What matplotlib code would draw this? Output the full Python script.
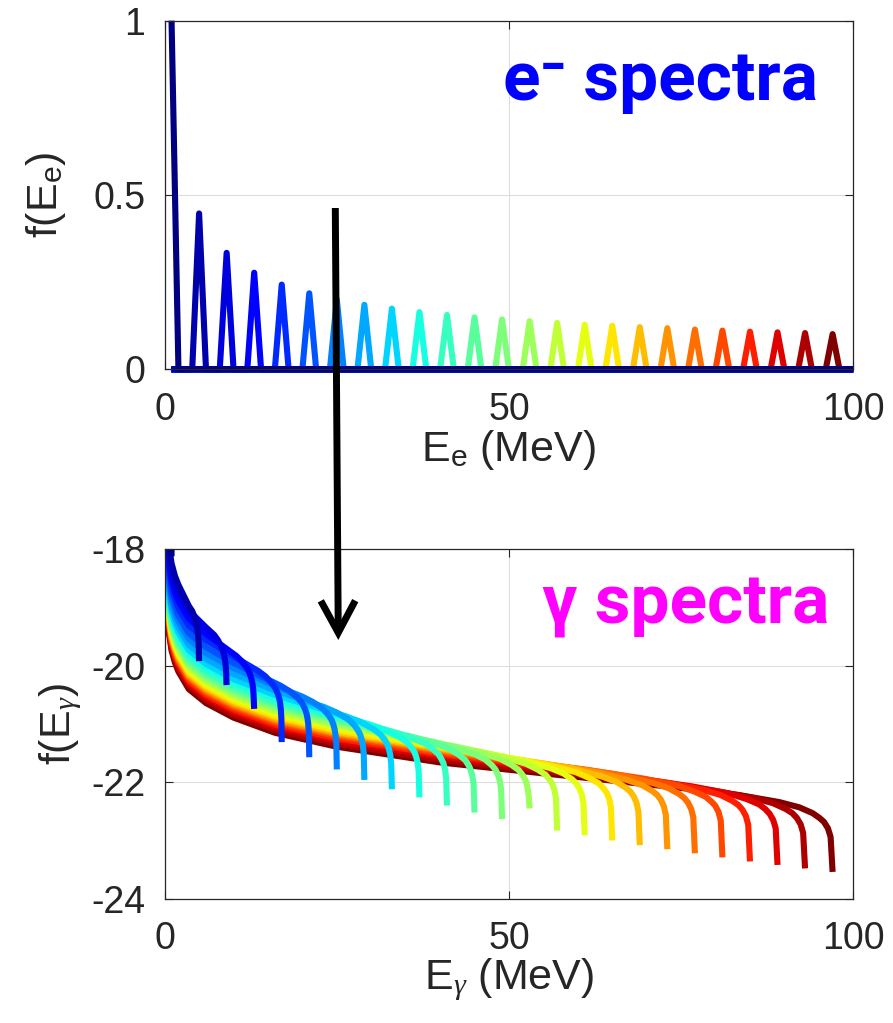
import numpy as np
import matplotlib
matplotlib.use("Agg")
import matplotlib.pyplot as plt
from matplotlib.patches import FancyArrowPatch

plt.rcParams['font.family'] = ['Liberation Sans', 'DejaVu Sans']
plt.rcParams['mathtext.fontset'] = 'custom'
plt.rcParams['mathtext.rm'] = 'Liberation Sans'
plt.rcParams['mathtext.it'] = 'Liberation Serif:italic'
plt.rcParams['axes.unicode_minus'] = False

# electron spectra: one narrow line per beam energy (MeV), sampled every 1 MeV
e_peak = [1, 5, 9, 13, 17, 21, 25, 29, 33, 37, 41, 45, 49,
          53, 57, 61, 65, 69, 73, 77, 81, 85, 89, 93, 97]
f_peak = [1.0, 0.447, 0.334, 0.277, 0.243, 0.218, 0.2, 0.185, 0.174, 0.164,
          0.156, 0.149, 0.143, 0.138, 0.133, 0.128, 0.125, 0.121, 0.118,
          0.114, 0.111, 0.108, 0.106, 0.104, 0.101]
e_grid = np.arange(1, 101)

# gamma spectra (log10), one curve per electron energy in e_peak
# body points sit at gamma_e_body, the cut-off part at e_peak * tail_frac
gamma_e_body = [0.02, 0.15, 0.3, 0.6, 1, 1.5, 2, 3.5, 6, 10, 16, 25, 40, 60]
tail_frac = [0.8, 0.86, 0.92, 0.95, 0.97, 0.98, 0.987, 0.993, 0.997, 1.0]

gamma_body = [
    [-14.72, -15.72, -16.38, -16.98],
    [-15.70, -16.70, -17.35, -17.92, -18.24, -18.46, -18.61, -18.97],
    [-15.84, -16.84, -17.49, -18.06, -18.38, -18.59, -18.74, -19.05, -19.34],
    [-15.99, -16.99, -17.64, -18.21, -18.53, -18.74, -18.89, -19.19, -19.45],
    [-16.11, -17.11, -17.76, -18.33, -18.65, -18.86, -19.01, -19.31, -19.56, -19.84],
    [-16.24, -17.24, -17.89, -18.46, -18.78, -18.99, -19.14, -19.44, -19.68, -19.95],
    [-16.34, -17.34, -17.99, -18.56, -18.88, -19.09, -19.24, -19.54, -19.78, -20.04, -20.34],
    [-16.44, -17.44, -18.09, -18.66, -18.98, -19.19, -19.34, -19.64, -19.88, -20.14, -20.42],
    [-16.53, -17.53, -18.18, -18.75, -19.07, -19.28, -19.43, -19.73, -19.97, -20.23, -20.50],
    [-16.60, -17.60, -18.25, -18.82, -19.14, -19.35, -19.50, -19.80, -20.04, -20.29, -20.56, -20.85],
    [-16.66, -17.66, -18.31, -18.88, -19.20, -19.41, -19.56, -19.86, -20.10, -20.35, -20.62, -20.89],
    [-16.71, -17.71, -18.36, -18.93, -19.25, -19.46, -19.61, -19.91, -20.15, -20.40, -20.66, -20.93],
    [-16.75, -17.75, -18.40, -18.97, -19.29, -19.50, -19.65, -19.95, -20.19, -20.44, -20.70, -20.96],
    [-16.79, -17.79, -18.44, -19.01, -19.33, -19.54, -19.69, -19.99, -20.23, -20.48, -20.74, -21.00],
    [-16.83, -17.83, -18.48, -19.05, -19.37, -19.58, -19.73, -20.03, -20.27, -20.52, -20.78, -21.03, -21.35],
    [-16.87, -17.87, -18.52, -19.09, -19.41, -19.62, -19.77, -20.07, -20.31, -20.56, -20.82, -21.07, -21.37],
    [-16.91, -17.91, -18.56, -19.13, -19.45, -19.66, -19.81, -20.11, -20.35, -20.60, -20.86, -21.11, -21.40],
    [-16.94, -17.94, -18.59, -19.16, -19.48, -19.69, -19.84, -20.14, -20.38, -20.63, -20.89, -21.14, -21.42],
    [-16.97, -17.97, -18.62, -19.19, -19.51, -19.72, -19.87, -20.17, -20.41, -20.66, -20.92, -21.16, -21.44],
    [-16.99, -17.99, -18.64, -19.21, -19.53, -19.74, -19.89, -20.19, -20.43, -20.68, -20.94, -21.18, -21.46],
    [-17.02, -18.02, -18.67, -19.24, -19.56, -19.77, -19.92, -20.22, -20.46, -20.71, -20.97, -21.21, -21.49, -21.77],
    [-17.06, -18.06, -18.71, -19.28, -19.60, -19.81, -19.96, -20.26, -20.50, -20.75, -21.01, -21.25, -21.52, -21.80],
    [-17.10, -18.10, -18.75, -19.32, -19.64, -19.85, -20.00, -20.30, -20.54, -20.79, -21.05, -21.29, -21.56, -21.83],
    [-17.15, -18.15, -18.80, -19.37, -19.69, -19.90, -20.05, -20.35, -20.59, -20.84, -21.10, -21.34, -21.61, -21.87],
    [-17.20, -18.20, -18.85, -19.42, -19.74, -19.95, -20.10, -20.40, -20.64, -20.89, -21.15, -21.39, -21.66, -21.91],
]
gamma_tail = [
    [-17.27, -17.36, -17.48, -17.57, -17.67, -17.74, -17.82, -17.93, -18.08, -18.12],
    [-19.06, -19.15, -19.28, -19.37, -19.47, -19.54, -19.62, -19.73, -19.88, -19.92],
    [-19.47, -19.56, -19.69, -19.78, -19.88, -19.95, -20.03, -20.14, -20.29, -20.33],
    [-19.83, -19.92, -20.04, -20.13, -20.23, -20.30, -20.38, -20.49, -20.64, -20.74],
    [-20.09, -20.18, -20.31, -20.40, -20.50, -20.57, -20.65, -20.76, -20.91, -21.31],
    [-20.34, -20.43, -20.55, -20.64, -20.74, -20.81, -20.89, -21.00, -21.15, -21.57],
    [-20.53, -20.62, -20.74, -20.84, -20.93, -21.01, -21.09, -21.20, -21.34, -21.78],
    [-20.71, -20.80, -20.92, -21.02, -21.12, -21.19, -21.27, -21.38, -21.52, -21.96],
    [-20.87, -20.96, -21.09, -21.18, -21.28, -21.35, -21.43, -21.54, -21.69, -22.12],
    [-21.00, -21.09, -21.22, -21.31, -21.41, -21.48, -21.56, -21.67, -21.82, -22.26],
    [-21.12, -21.21, -21.33, -21.43, -21.52, -21.60, -21.67, -21.78, -21.93, -22.40],
    [-21.22, -21.31, -21.43, -21.53, -21.62, -21.70, -21.78, -21.89, -22.03, -22.52],
    [-21.31, -21.40, -21.52, -21.61, -21.71, -21.78, -21.86, -21.97, -22.12, -22.63],
    [-21.39, -21.48, -21.60, -21.70, -21.79, -21.87, -21.94, -22.05, -22.20, -22.45],
    [-21.47, -21.56, -21.68, -21.78, -21.87, -21.95, -22.02, -22.13, -22.28, -22.83],
    [-21.55, -21.64, -21.76, -21.85, -21.95, -22.02, -22.10, -22.21, -22.36, -22.91],
    [-21.62, -21.71, -21.83, -21.93, -22.02, -22.10, -22.17, -22.28, -22.43, -23.00],
    [-21.68, -21.77, -21.90, -21.99, -22.09, -22.16, -22.24, -22.35, -22.50, -23.08],
    [-21.74, -21.83, -21.96, -22.05, -22.15, -22.22, -22.30, -22.41, -22.56, -23.15],
    [-21.79, -21.88, -22.01, -22.10, -22.20, -22.27, -22.35, -22.46, -22.60, -23.22],
    [-21.85, -21.94, -22.06, -22.16, -22.25, -22.33, -22.40, -22.51, -22.66, -23.29],
    [-21.92, -22.01, -22.13, -22.22, -22.32, -22.39, -22.47, -22.58, -22.73, -23.36],
    [-21.98, -22.07, -22.19, -22.29, -22.38, -22.46, -22.54, -22.65, -22.79, -23.42],
    [-22.05, -22.15, -22.27, -22.36, -22.46, -22.53, -22.61, -22.72, -22.87, -23.48],
    [-22.13, -22.22, -22.34, -22.43, -22.53, -22.61, -22.68, -22.79, -22.94, -23.54],
]

x_ticks = [0, 50, 100]
top_yticks = [0, 0.5, 1]
top_ylabels = ['0', '0.5', '1']
bot_yticks = [-24, -22, -20, -18]
bot_ylabels = ['-24', '-22', '-20', '-18']

colors = plt.cm.jet(np.linspace(0, 1, len(e_peak)))
tick_fs = 27
label_fs = 31
lw = 4.4

fig = plt.figure(figsize=(8.93, 10.23), dpi=100)
ax1 = fig.add_axes([0.1844, 0.6390, 0.7711, 0.3408])
ax2 = fig.add_axes([0.1844, 0.1215, 0.7711, 0.3415])


def style(ax):
    ax.grid(True, color='#dcdcdc', lw=0.8, zorder=0)
    ax.set_axisbelow(True)
    for s in ax.spines.values():
        s.set_color('#262626')
        s.set_linewidth(0.9)
    ax.tick_params(direction='in', length=6, width=0.8, top=True, right=True,
                   labelsize=tick_fs, colors='#262626')
    ax.tick_params(axis='x', pad=16)
    ax.tick_params(axis='y', pad=14)
    ax.set_xticks(x_ticks)
    ax.set_xlim(0, 100)


# electron spectra
for k in reversed(range(len(e_peak))):
    f = np.where(e_grid == e_peak[k], f_peak[k], 0.0)
    ax1.plot(e_grid, f, color=colors[k], lw=lw, clip_on=False,
             solid_joinstyle='round', solid_capstyle='butt')
style(ax1)
ax1.set_ylim(0, 1)
ax1.set_yticks(top_yticks)
ax1.set_yticklabels(top_ylabels)
ax1.set_xlabel(r'E$_\mathrm{e}$ (MeV)', fontsize=label_fs, color='#262626', labelpad=0)
ax1.set_ylabel(r'f(E$_\mathrm{e}$)', fontsize=label_fs, color='#262626', labelpad=18)
ax1.text(0.949, 0.7725, 'e\u207b spectra', transform=ax1.transAxes,
         ha='right', va='baseline', fontsize=50, fontweight='bold',
         color='#0000ff', family=['Roboto', 'DejaVu Sans'])

# gamma spectra
for k in reversed(range(len(e_peak))):
    body = gamma_body[k]
    xs = gamma_e_body[:len(body)] + [e_peak[k] * fr for fr in tail_frac]
    ys = body + gamma_tail[k]
    ax2.plot(xs, ys, color=colors[k], lw=lw,
             solid_joinstyle='round', solid_capstyle='butt')
style(ax2)
ax2.set_ylim(-24, -18)
ax2.set_yticks(bot_yticks)
ax2.set_yticklabels(bot_ylabels)
ax2.set_xlabel(r'E$_\gamma$ (MeV)', fontsize=label_fs, color='#262626', labelpad=0)
ax2.set_ylabel(r'f(E$_\gamma$)', fontsize=label_fs, color='#262626', labelpad=5)
ax2.text(0.966, 0.788, '\u03b3 spectra', transform=ax2.transAxes,
         ha='right', va='baseline', fontsize=50, fontweight='bold',
         color='#ff00ff', family=['Roboto', 'DejaVu Sans'])

# arrow from the electron panel into the gamma panel
W, H = 893, 1023
arrow = FancyArrowPatch((335.3 / W, 1 - 208 / H), (338.3 / W, 1 - 640 / H),
                        transform=fig.transFigure,
                        arrowstyle='->,head_length=1.15,head_width=0.62',
                        mutation_scale=20, lw=5, color='black',
                        joinstyle='miter', capstyle='butt', shrinkA=0, shrinkB=0)
fig.add_artist(arrow)

fig.savefig('out.png', dpi=100)
